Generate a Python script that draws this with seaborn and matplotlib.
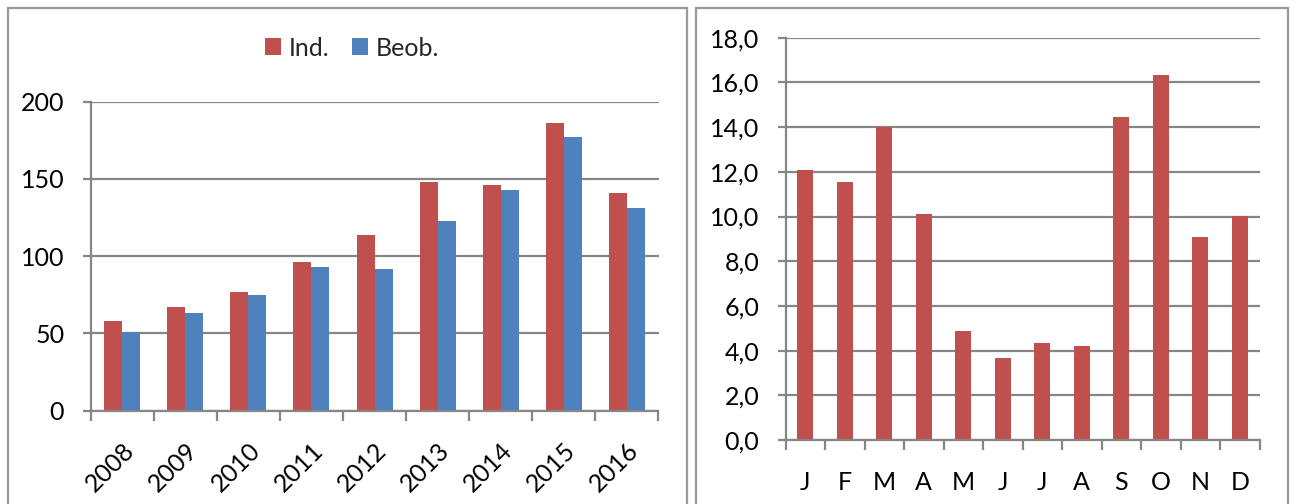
import matplotlib
matplotlib.use("Agg")
import matplotlib.pyplot as plt
from matplotlib.patches import Rectangle
from matplotlib.ticker import FixedLocator, FuncFormatter
import seaborn as sns
import pandas as pd
import numpy as np

# ---- data ----
years = ["2008", "2009", "2010", "2011", "2012", "2013", "2014", "2015", "2016"]
ind_values = [58, 67, 77, 96, 114, 148, 146, 186, 141]
beob_values = [51, 63, 75, 93, 92, 123, 143, 177, 131]
series_names = ["Ind.", "Beob."]
months = ["J", "F", "M", "A", "M", "J", "J", "A", "S", "O", "N", "D"]
month_values = [12.1, 11.55, 14.0, 10.1, 4.88, 3.67, 4.33, 4.22, 14.45, 16.33, 9.1, 10.02]
left_yticks = [0, 50, 100, 150, 200]
right_yticks = [0, 2, 4, 6, 8, 10, 12, 14, 16, 18]

RED = "#C0504D"
BLUE = "#4F81BD"
GRID = "#868686"
FS = 18

sns.set_theme(style="white")
plt.rcParams["font.family"] = ["Lato", "DejaVu Sans"]
plt.rcParams["font.size"] = FS

W, H = 1290, 504
fig = plt.figure(figsize=(W / 100, H / 100), dpi=100)

# panel borders
for x0, x1 in [(8, 687), (696, 1288)]:
    rect = Rectangle((x0 / W, -0.1), (x1 - x0) / W, 1.1 - 8 / H,
                     transform=fig.transFigure, fill=False,
                     edgecolor="#9A9A9A", linewidth=1.6, clip_on=False)
    fig.add_artist(rect)


def style_axes(ax, ncat, yticks, fmt):
    ax.set_facecolor("white")
    for s in ["top", "right"]:
        ax.spines[s].set_visible(False)
    for s in ["left", "bottom"]:
        ax.spines[s].set_color(GRID)
        ax.spines[s].set_linewidth(1.6)
    ax.set_yticks(yticks)
    ax.yaxis.set_major_formatter(FuncFormatter(fmt))
    ax.set_ylim(yticks[0], yticks[-1])
    ax.yaxis.grid(True, color=GRID, linewidth=1.6)
    ax.set_axisbelow(True)
    ax.tick_params(axis="y", which="major", left=True, length=6, width=1.6,
                   color=GRID, pad=13, labelsize=FS, labelcolor="black")
    ax.set_xlim(-0.5, ncat - 0.5)
    ax.xaxis.set_minor_locator(FixedLocator(np.arange(-0.5, ncat, 1.0)))
    ax.tick_params(axis="x", which="minor", bottom=True, length=7, width=1.6,
                   color=GRID, direction="out")
    ax.tick_params(axis="x", which="major", bottom=False, length=0,
                   labelsize=FS, labelcolor="black")
    ax.set_xlabel("")
    ax.set_ylabel("")


# ---- left chart ----
ax1 = fig.add_axes([90.6 / W, 1 - 410.7 / H, (658.5 - 90.6) / W, (410.7 - 101.7) / H])
df1 = pd.DataFrame({
    "Jahr": years * 2,
    "Wert": ind_values + beob_values,
    "Serie": [series_names[0]] * len(years) + [series_names[1]] * len(years),
})
sns.barplot(data=df1, x="Jahr", y="Wert", hue="Serie", order=years,
            hue_order=series_names, palette=[RED, BLUE], width=0.57,
            saturation=1, linewidth=0, ax=ax1, errorbar=None)
style_axes(ax1, len(years), left_yticks, lambda v, p: f"{int(v)}")
for lab in ax1.get_xticklabels():
    lab.set_rotation(45)
    lab.set_ha("right")
    lab.set_va("top")
    lab.set_rotation_mode("anchor")
ax1.tick_params(axis="x", which="major", pad=20)
leg = ax1.legend(loc="center", bbox_to_anchor=(352 / W, 1 - 48 / H),
                 bbox_transform=fig.transFigure, ncol=2, frameon=False,
                 fontsize=FS, handlelength=0.65, handleheight=0.65,
                 handletextpad=0.3, columnspacing=0.9)

# ---- right chart ----
ax2 = fig.add_axes([785.6 / W, 1 - 440 / H, (1259.6 - 785.6) / W, (440 - 37.7) / H])
df2 = pd.DataFrame({"Pos": list(range(len(months))), "Wert": month_values})
sns.barplot(data=df2, x="Pos", y="Wert", color=RED, width=0.4,
            saturation=1, linewidth=0, ax=ax2, errorbar=None)
style_axes(ax2, len(months), right_yticks, lambda v, p: f"{v:.1f}".replace(".", ","))
ax2.set_xticks(range(len(months)))
ax2.set_xticklabels(months)
ax2.tick_params(axis="x", which="major", pad=22)

fig.savefig("out.png", dpi=100)
